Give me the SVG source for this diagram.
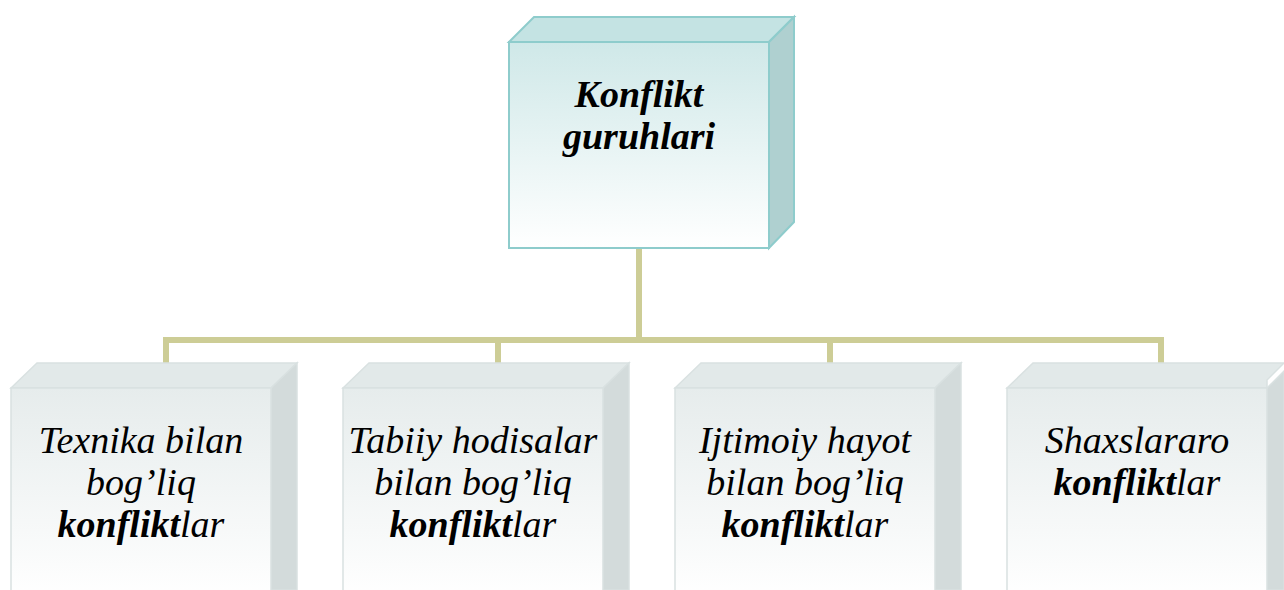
<svg xmlns="http://www.w3.org/2000/svg" width="1284" height="590" viewBox="0 0 1284 590">
  <defs>
    <linearGradient id="gTop" x1="0" y1="0" x2="0" y2="1">
      <stop offset="0" stop-color="#cfe8e8"/>
      <stop offset="1" stop-color="#ffffff"/>
    </linearGradient>
    <linearGradient id="gLeaf" x1="0" y1="0" x2="0" y2="1">
      <stop offset="0" stop-color="#e6ecec"/>
      <stop offset="1" stop-color="#ffffff"/>
    </linearGradient>
  </defs>

  <!-- connectors -->
  <g id="connectors" fill="none" stroke="#cdcd96" stroke-width="6">
    <path d="M639 248 V340"/>
    <path d="M166 364 V340 H1161 V364"/>
    <path d="M498 340 V364"/>
    <path d="M830 340 V364"/>
  </g>

  <!-- root node -->
  <g id="root">
    <polygon fill="#c4e3e3" stroke="#8ecccc" stroke-width="2" points="509,42 534,17 794,17 769,42"/>
    <polygon fill="#afd0d0" stroke="#8ecccc" stroke-width="2" points="769,42 794,17 794,222 769,248"/>
    <rect fill="url(#gTop)" stroke="#8ecccc" stroke-width="2" x="509" y="42" width="260" height="206"/>
    <text x="639" y="107" style="font-family:'Liberation Serif',serif;font-style:italic;font-weight:bold;font-size:38px" text-anchor="middle">Konflikt</text>
    <text x="639" y="149" style="font-family:'Liberation Serif',serif;font-style:italic;font-weight:bold;font-size:38px" text-anchor="middle">guruhlari</text>
  </g>

  <!-- child nodes -->
  <g id="node-texnika">
    <polygon fill="#e2e9e9" stroke="#d9e1e1" stroke-width="1.5" points="11,388 37,363 297,363 271,388"/>
    <polygon fill="#d3dbdb" stroke="#d9e1e1" stroke-width="1.5" points="271,388 297,363 297,590 271,590"/>
    <rect fill="url(#gLeaf)" stroke="#d9e1e1" stroke-width="1.5" x="11" y="388" width="260" height="210"/>
    <text x="141" y="453" style="font-family:'Liberation Serif',serif;font-style:italic;font-size:38px" text-anchor="middle">Texnika bilan</text>
    <text x="141" y="495" style="font-family:'Liberation Serif',serif;font-style:italic;font-size:38px" text-anchor="middle">bog’liq</text>
    <text x="141" y="537" style="font-family:'Liberation Serif',serif;font-style:italic;font-size:38px" text-anchor="middle"><tspan font-weight="bold">konflikt</tspan>lar</text>
  </g>

  <g id="node-tabiiy">
    <polygon fill="#e2e9e9" stroke="#d9e1e1" stroke-width="1.5" points="343,388 369,363 629,363 603,388"/>
    <polygon fill="#d3dbdb" stroke="#d9e1e1" stroke-width="1.5" points="603,388 629,363 629,590 603,590"/>
    <rect fill="url(#gLeaf)" stroke="#d9e1e1" stroke-width="1.5" x="343" y="388" width="260" height="210"/>
    <text x="473" y="453" style="font-family:'Liberation Serif',serif;font-style:italic;font-size:38px" text-anchor="middle">Tabiiy hodisalar</text>
    <text x="473" y="495" style="font-family:'Liberation Serif',serif;font-style:italic;font-size:38px" text-anchor="middle">bilan bog’liq</text>
    <text x="473" y="537" style="font-family:'Liberation Serif',serif;font-style:italic;font-size:38px" text-anchor="middle"><tspan font-weight="bold">konflikt</tspan>lar</text>
  </g>

  <g id="node-ijtimoiy">
    <polygon fill="#e2e9e9" stroke="#d9e1e1" stroke-width="1.5" points="675,388 701,363 961,363 935,388"/>
    <polygon fill="#d3dbdb" stroke="#d9e1e1" stroke-width="1.5" points="935,388 961,363 961,590 935,590"/>
    <rect fill="url(#gLeaf)" stroke="#d9e1e1" stroke-width="1.5" x="675" y="388" width="260" height="210"/>
    <text x="805" y="453" style="font-family:'Liberation Serif',serif;font-style:italic;font-size:38px" text-anchor="middle">Ijtimoiy hayot</text>
    <text x="805" y="495" style="font-family:'Liberation Serif',serif;font-style:italic;font-size:38px" text-anchor="middle">bilan bog’liq</text>
    <text x="805" y="537" style="font-family:'Liberation Serif',serif;font-style:italic;font-size:38px" text-anchor="middle"><tspan font-weight="bold">konflikt</tspan>lar</text>
  </g>

  <g id="node-shaxslararo">
    <polygon fill="#e2e9e9" stroke="#d9e1e1" stroke-width="1.5" points="1007,388 1033,363 1284,363 1267,380 1267,388"/>
    <polygon fill="#d3dbdb" stroke="#d9e1e1" stroke-width="1.5" points="1267,388 1284,371 1284,590 1267,590"/>
    <rect fill="url(#gLeaf)" stroke="#d9e1e1" stroke-width="1.5" x="1007" y="388" width="260" height="210"/>
    <text x="1137" y="453" style="font-family:'Liberation Serif',serif;font-style:italic;font-size:38px" text-anchor="middle">Shaxslararo</text>
    <text x="1137" y="495" style="font-family:'Liberation Serif',serif;font-style:italic;font-size:38px" text-anchor="middle"><tspan font-weight="bold">konflikt</tspan>lar</text>
  </g>
</svg>
